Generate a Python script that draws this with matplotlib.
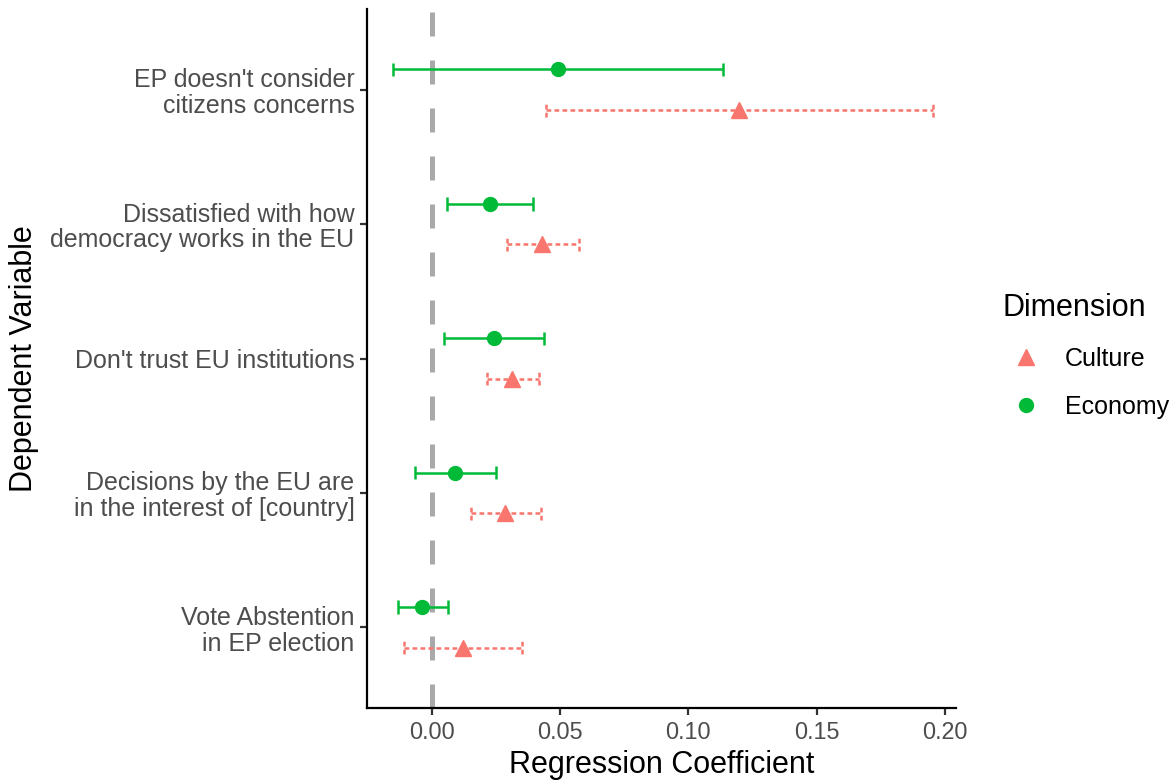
import matplotlib.pyplot as plt
from matplotlib.lines import Line2D

plt.rcParams['font.family'] = ['Liberation Sans', 'DejaVu Sans']

# outcome variables, top to bottom
outcomes = [
    "EP doesn't consider\ncitizens concerns",
    "Dissatisfied with how\ndemocracy works in the EU",
    "Don't trust EU institutions",
    "Decisions by the EU are\nin the interest of [country]",
    "Vote Abstention\nin EP election",
]

# coefficient estimates and 95% intervals
econ_est = [0.049, 0.0227, 0.0243, 0.0090, -0.0039]
econ_lo = [-0.0153, 0.0059, 0.0047, -0.0067, -0.0133]
econ_hi = [0.1133, 0.0396, 0.0439, 0.0251, 0.0063]

cult_est = [0.1196, 0.0431, 0.0314, 0.0286, 0.0122]
cult_lo = [0.0443, 0.0294, 0.0216, 0.0153, -0.0110]
cult_hi = [0.1953, 0.0573, 0.0416, 0.0424, 0.0353]

xticks = [0.00, 0.05, 0.10, 0.15, 0.20]

GREEN = "#00BA38"
RED = "#F8766D"
dodge = 0.15
cap = 0.05

fig = plt.figure(figsize=(11.75, 7.82), dpi=100)
ax = fig.add_axes([0.3123, 0.0946, 0.8136 - 0.3123, 0.9885 - 0.0946])

n = len(outcomes)
ypos = [n - i for i in range(n)]

ax.axvline(0, color="#A9A9A9", lw=3.6, ls=(0, (4.8, 4.8)), zorder=1)

for i, y in enumerate(ypos):
    ye = y + dodge
    ax.hlines(ye, econ_lo[i], econ_hi[i], color=GREEN, lw=1.8, zorder=2)
    ax.vlines([econ_lo[i], econ_hi[i]], ye - cap, ye + cap, color=GREEN, lw=1.8, zorder=2)
    yc = y - dodge
    ax.hlines(yc, cult_lo[i], cult_hi[i], color=RED, lw=1.8, ls=(0, (1.9, 1.3)), zorder=2)
    ax.vlines([cult_lo[i], cult_hi[i]], yc - cap, yc + cap, color=RED, lw=1.8,
              ls=(0, (1.9, 1.3)), zorder=2)

ax.plot(econ_est, [y + dodge for y in ypos], "o", color=GREEN, ms=10, ls="none", zorder=3)
ax.plot(cult_est, [y - dodge for y in ypos], "^", color=RED, ms=11.5, ls="none", zorder=3)

ax.set_xlim(-0.0253, 0.2043)
ax.set_ylim(0.4, n + 0.6)
ax.set_xticks(xticks)
ax.set_xticklabels([f"{t:.2f}" for t in xticks], fontsize=16.8)
ax.set_yticks(ypos)
ax.set_yticklabels(outcomes, linespacing=1.1, fontsize=18)

for s in ["top", "right"]:
    ax.spines[s].set_visible(False)
for s in ["left", "bottom"]:
    ax.spines[s].set_linewidth(1.6)
    ax.spines[s].set_color("black")
ax.tick_params(axis="both", length=5, width=1.6, color="#333333",
               labelcolor="#4D4D4D", pad=4)

ax.set_xlabel("Regression Coefficient", fontsize=22, labelpad=5)
ax.set_ylabel("Dependent Variable", fontsize=22, labelpad=8)

handles = [
    Line2D([], [], marker="^", color=RED, ls="none", ms=11.5),
    Line2D([], [], marker="o", color=GREEN, ls="none", ms=10),
]
leg = fig.legend(handles, ["Culture", "Economy"], title="Dimension",
                 loc="center left", bbox_to_anchor=(0.845, 0.545),
                 frameon=False, fontsize=18, title_fontsize=22,
                 labelspacing=0.95, handlelength=1.84, handletextpad=0.64,
                 borderaxespad=0)
leg._legend_box.align = "left"

fig.savefig("out.png", dpi=100)
